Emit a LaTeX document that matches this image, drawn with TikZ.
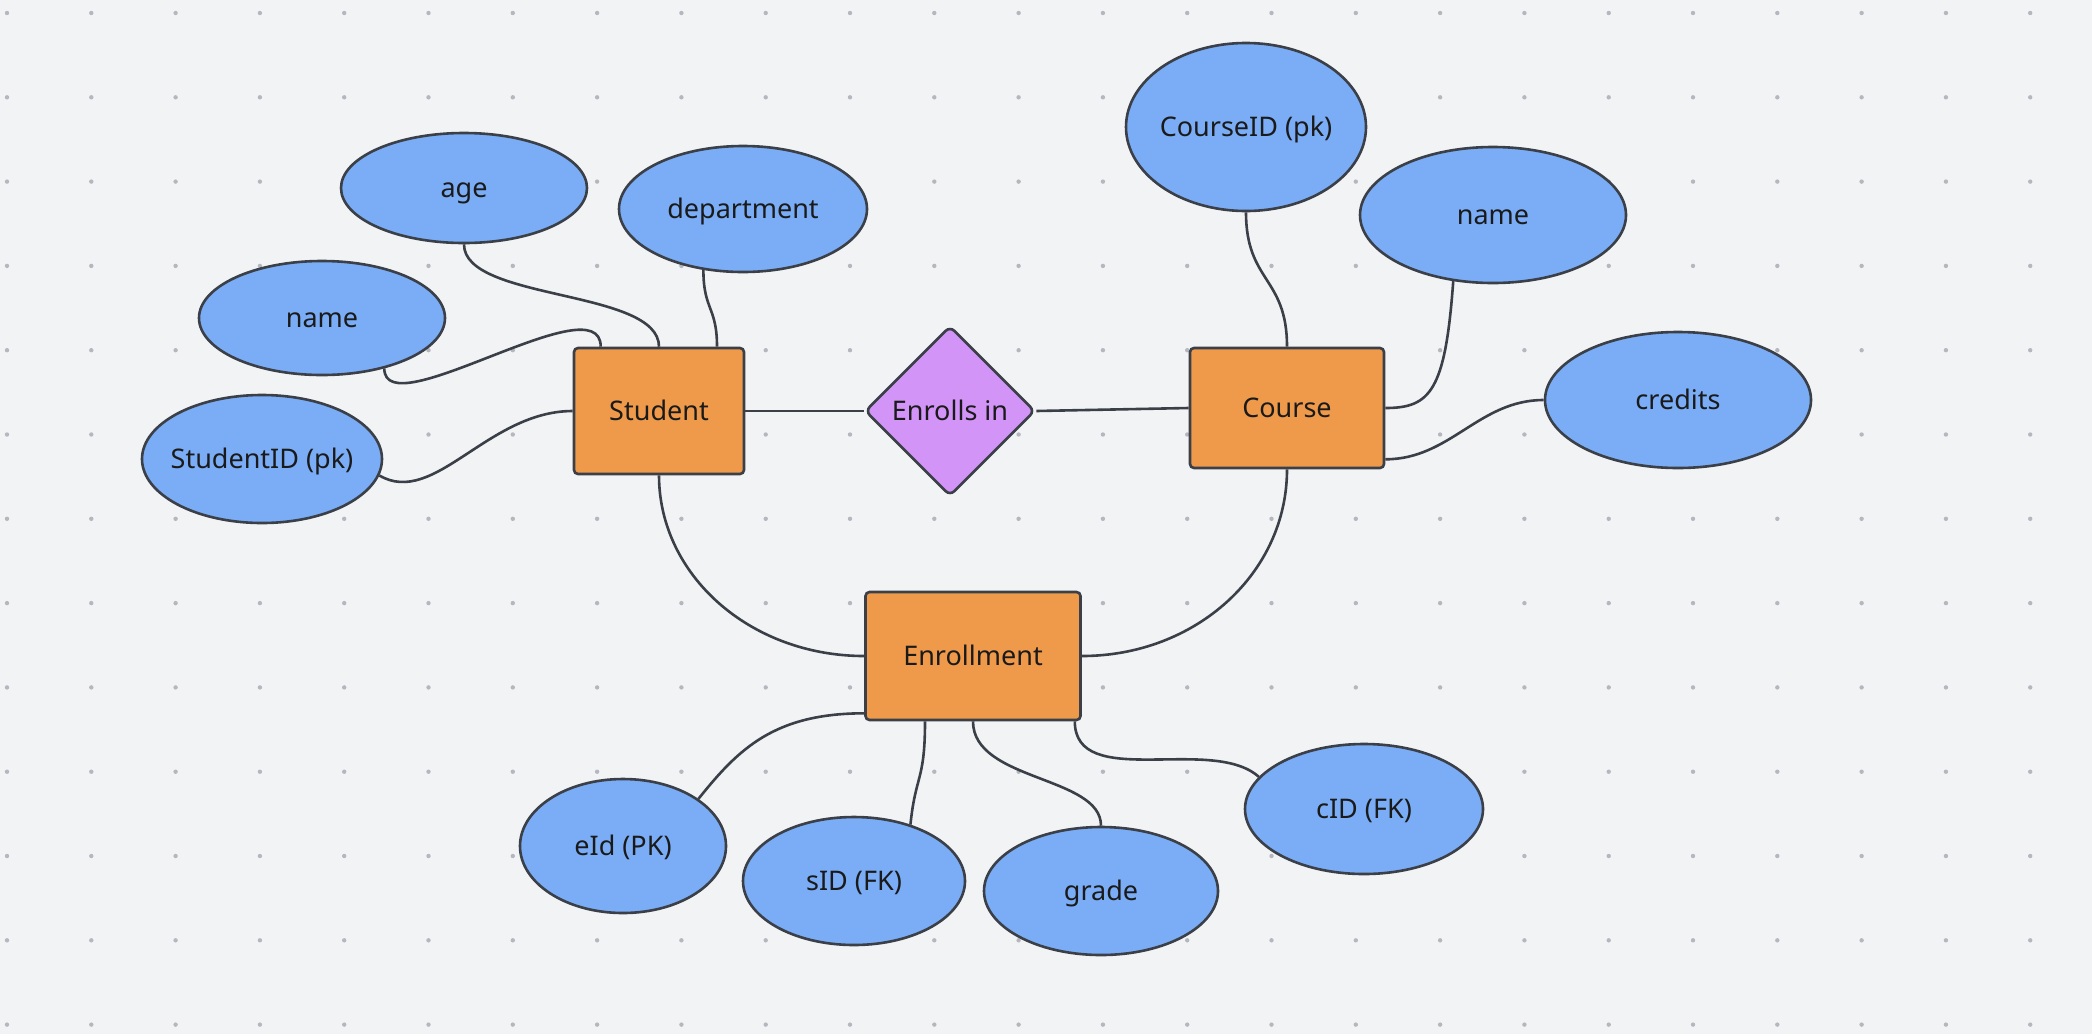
\documentclass[tikz,border=0pt]{standalone}
\usepackage{fontspec}
\setmainfont{Noto Sans}
\usetikzlibrary{shapes.geometric}
\definecolor{bg}{HTML}{F2F3F5}
\definecolor{attrc}{HTML}{7AADF5}
\definecolor{entc}{HTML}{EE9A4A}
\definecolor{relc}{HTML}{D394F8}
\definecolor{ink}{HTML}{3A3F48}
\definecolor{dotc}{HTML}{B4B8BE}
\definecolor{txt}{HTML}{1A1A1A}
\begin{document}
\begin{tikzpicture}[x=0.5pt,y=-0.5pt,
  lbl/.style={font=\fontsize{13.5}{16}\selectfont, text=txt, text height=9.6pt, text depth=0pt},
  attrbox/.style={ellipse, draw=ink, fill=attrc, line width=1.3pt, inner sep=0pt, lbl},
  entbox/.style={rectangle, rounded corners=2pt, draw=ink, fill=entc, line width=1.3pt, inner sep=0pt, lbl},
  relbox/.style={diamond, aspect=1, rounded corners=3pt, draw=ink, fill=relc, line width=1.3pt, inner sep=0pt, minimum width=85pt, minimum height=85pt, lbl},
  link/.style={draw=ink, line width=1.3pt}]
\fill[bg] (0,0) rectangle (2092,1034);
\useasboundingbox (0,0) rectangle (2092,1034);
\foreach \i in {0,...,24} \foreach \j in {0,...,12}
  \fill[dotc] (7+84.3*\i, 13+84.3*\j) circle (1.1pt);

% entities
\node[entbox, minimum width=85pt, minimum height=63pt] (student) at (659,411) {Student};
\node[entbox, minimum width=97pt, minimum height=60pt] (course) at (1287,408) {Course};
\node[entbox, minimum width=107.5pt, minimum height=64pt] (enroll) at (973,656) {Enrollment};
\node[relbox] (enrolls) at (950,411) {\makebox[20pt]{Enrolls in}};

% attributes
\node[attrbox, minimum width=123pt, minimum height=55pt] (age) at (464,188) {age};
\node[attrbox, minimum width=124pt, minimum height=63pt] (dept) at (743,209) {department};
\node[attrbox, minimum width=123pt, minimum height=57pt] (sname) at (322,318) {name};
\node[attrbox, minimum width=120pt, minimum height=64pt] (sid) at (262,459) {\makebox[20pt]{StudentID (pk)}};
\node[attrbox, minimum width=120pt, minimum height=84pt] (cid) at (1246,127) {\makebox[20pt]{CourseID (pk)}};
\node[attrbox, minimum width=133pt, minimum height=68pt] (cname) at (1493,215) {name};
\node[attrbox, minimum width=133pt, minimum height=68pt] (credits) at (1678,400) {credits};
\node[attrbox, minimum width=103pt, minimum height=67pt] (eid) at (623,846) {eId (PK)};
\node[attrbox, minimum width=111pt, minimum height=64pt] (sidfk) at (854,881) {sID (FK)};
\node[attrbox, minimum width=117pt, minimum height=64pt] (grade) at (1101,891) {grade};
\node[attrbox, minimum width=119pt, minimum height=65pt] (cidfk) at (1364,809) {cID (FK)};

% connectors
\draw[link] ([xshift=14pt]student.north west) .. controls +(0,-65) and +(0,60) .. (sname.-39);
\draw[link] (age.south) .. controls +(0,57) and +(0,-58) .. (student.north);
\draw[link] (dept.-123) .. controls +(0,40) and +(0,-40) .. ([xshift=29pt]student.north);
\draw[link] (sid.-8) .. controls +(55,32) and +(-85,0) .. (student.west);
\draw[link] (student.east) -- (enrolls.west);
\draw[link] (enrolls.east) -- (course.west);
\draw[link] (student.south) .. controls +(0,100) and +(-114,0) .. (enroll.west);
\draw[link] (course.south) .. controls +(0,104) and +(114,0) .. (enroll.east);
\draw[link] (cid.south) .. controls +(0,70) and +(0,-70) .. (course.north);
\draw[link] (cname.-121) .. controls +(-8,110) and +(45,0) .. (course.east);
\draw[link] (credits.west) .. controls +(-65,0) and +(65,0) .. ([yshift=5pt]course.south east);
\draw[link] ([yshift=4pt]enroll.south west) .. controls +(-90,0) and +(40,-50) .. (eid.32);
\draw[link] ([xshift=-24pt]enroll.south) .. controls +(0,60) and +(5,-50) .. (sidfk.45);
\draw[link] (enroll.south) .. controls +(0,60) and +(0,-50) .. (grade.north);
\draw[link] ([xshift=-3.5pt]enroll.south east) .. controls +(0,70) and +(-47,-42) .. (cidfk.163);
\end{tikzpicture}
\end{document}
